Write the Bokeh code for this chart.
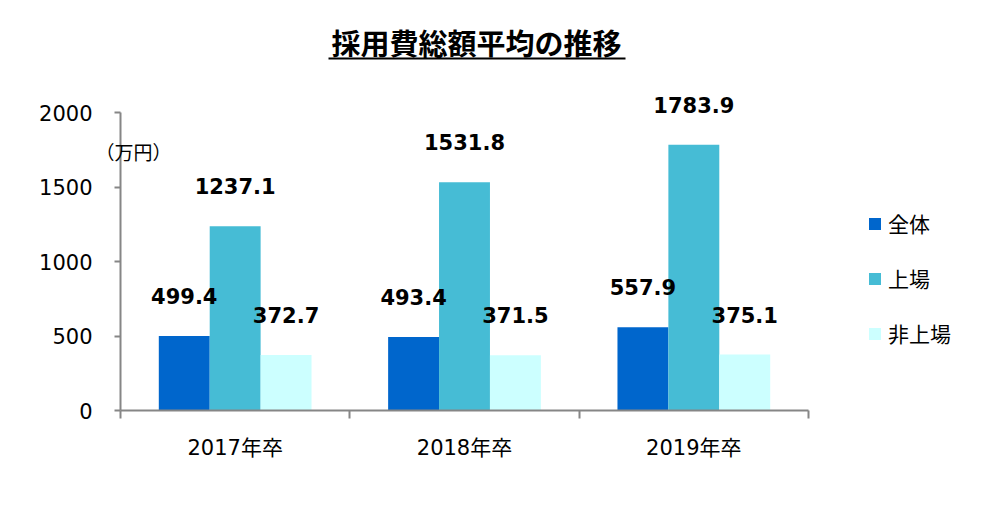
from bokeh.plotting import figure
from bokeh.models import (ColumnDataSource, Range1d, FixedTicker, Legend, LegendItem,
                          Label, BoxAnnotation)
from bokeh.transform import dodge
from bokeh.core.properties import value
from bokeh.embed import file_html
from bokeh.resources import INLINE

# ---- data ----
categories = ["2017年卒", "2018年卒", "2019年卒"]
series_names = ["全体", "上場", "非上場"]
zentai = [499.4, 493.4, 557.9]
jojo = [1237.1, 1531.8, 1783.9]
hijojo = [372.7, 371.5, 375.1]
y_ticks = [0, 500, 1000, 1500, 2000]
y_max = 2000
title_text = "採用費総額平均の推移"
unit_text = "（万円）"

colors = ["#0066CC", "#46BCD5", "#CCFFFF"]
NUM_FONT = "DejaVu Sans, Noto Sans CJK JP"
CJK_FONT = "Noto Sans CJK JP"

# ---- layout (canvas pixels); frame covers the whole canvas, axes use fixed locations ----
W, H = 984, 490
AX_L, AX_R, AX_T, AX_B = 120, 808, 112, 410   # visible axis extents
n = len(categories)
xpx = (AX_R - AX_L) / n
ypx = (AX_B - AX_T) / y_max
x_start = -AX_L / xpx
x_end = n + (W - AX_R) / xpx
y_start = -(H - AX_B) / ypx
y_end = AX_B / ypx

centers = [i + 0.5 for i in range(n)]
src = ColumnDataSource(dict(
    x=centers,
    zentai=zentai, jojo=jojo, hijojo=hijojo,
    zentai_t=[f"{v:.1f}" for v in zentai],
    jojo_t=[f"{v:.1f}" for v in jojo],
    hijojo_t=[f"{v:.1f}" for v in hijojo],
))

p = figure(width=W, height=H, output_backend="svg", toolbar_location=None,
           x_range=Range1d(x_start, x_end), y_range=Range1d(y_start, y_end),
           min_border_left=0, min_border_right=0, min_border_top=0,
           min_border_bottom=0, title=None)
p.outline_line_color = None
p.xgrid.visible = False
p.ygrid.visible = False
p.background_fill_color = "white"
p.border_fill_color = "white"

bw = 0.222
offsets = [-bw, 0.0, bw]
fields = ["zentai", "jojo", "hijojo"]
renderers = []
for f, off, c in zip(fields, offsets, colors):
    r = p.vbar(x=dodge("x", off, range=p.x_range), top=f, width=bw, bottom=0,
               source=src, fill_color=c, line_color=None)
    renderers.append(r)
for f, off in zip(fields, offsets):
    p.text(x=dodge("x", off, range=p.x_range), y=f, text=f + "_t", source=src,
           y_offset=-40, text_align="center", text_baseline="middle",
           text_font=value("DejaVu Sans"), text_font_style="bold",
           text_font_size="21px", text_color="#000000")

# y axis
ya = p.yaxis[0]
ya.ticker = FixedTicker(ticks=y_ticks)
ya.fixed_location = 0
ya.bounds = (0, y_max)
ya.axis_line_color = "#868686"
ya.axis_line_width = 2
ya.major_tick_line_color = "#868686"
ya.major_tick_line_width = 2
ya.major_tick_in = 0
ya.major_tick_out = 6
ya.minor_tick_line_color = None
ya.major_label_standoff = 22
ya.major_label_text_font = NUM_FONT
ya.major_label_text_font_size = "21px"
ya.major_label_text_color = "#000000"

# x axis: labels at centers, ticks at category boundaries
xa = p.xaxis[0]
xa.ticker = FixedTicker(ticks=centers, minor_ticks=list(range(n + 1)))
xa.fixed_location = 0
xa.bounds = (0, n)
xa.major_label_overrides = {c: lab for c, lab in zip(centers, categories)}
xa.axis_line_color = "#868686"
xa.axis_line_width = 2
xa.major_tick_line_color = None
xa.major_tick_in = 0
xa.major_tick_out = 0
xa.minor_tick_line_color = "#868686"
xa.minor_tick_line_width = 2
xa.minor_tick_in = 0
xa.minor_tick_out = 8
xa.major_label_standoff = 17
xa.major_label_text_font = NUM_FONT
xa.major_label_text_font_size = "21px"
xa.major_label_text_color = "#000000"

# legend
legend = Legend(items=[LegendItem(label=s, renderers=[r]) for s, r in zip(series_names, renderers)],
                location=(867, H - 348), orientation="vertical",
                glyph_width=15, glyph_height=15, label_height=21, spacing=25,
                label_standoff=6, padding=0, margin=0,
                label_text_font=CJK_FONT, label_text_font_size="21px",
                label_text_color="#000000",
                border_line_color=None, background_fill_alpha=0)
p.add_layout(legend, "center")

# unit label
p.add_layout(Label(x=95, y=H - 151, x_units="screen", y_units="screen", text=unit_text,
                   text_font=CJK_FONT, text_font_size="19px", text_color="#000000",
                   text_baseline="middle", text_align="left"))

# title with underline
p.add_layout(Label(x=476, y=H - 41, x_units="screen", y_units="screen", text=title_text,
                   text_font=CJK_FONT, text_font_size="29px", text_font_style="bold",
                   text_color="#000000", text_align="center", text_baseline="middle"))
p.add_layout(BoxAnnotation(left=328, right=625, bottom=H - 59, top=H - 57,
                           left_units="screen", right_units="screen",
                           bottom_units="screen", top_units="screen",
                           fill_color="#000000", fill_alpha=1, line_color=None))

open("out.html", "w").write(file_html(p, INLINE))
